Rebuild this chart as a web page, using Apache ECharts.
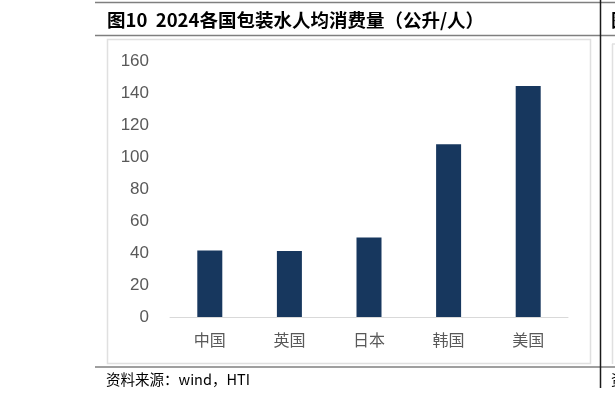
<!DOCTYPE html>
<html><head><meta charset="utf-8">
<script src="https://cdn.jsdelivr.net/npm/echarts@6/dist/echarts.min.js"></script>
<style>html,body{margin:0;padding:0;background:#fff;}#c{width:615px;height:398px;}</style>
</head><body><div id="c"></div>
<script>
const categories = ['中国', '英国', '日本', '韩国', '美国'];
const values = [41.6, 41.2, 49.7, 108, 144.3];
const yTicks = [0, 20, 40, 60, 80, 100, 120, 140, 160];
const titleText = '图10  2024各国包装水人均消费量（公升/人）';
const sourceText = '资料来源：wind，HTI';

const chart = echarts.init(document.getElementById('c'), null, {renderer: 'canvas'});
chart.setOption({
  animation: false,
  backgroundColor: '#fff',
  grid: {left: 170, right: 47, top: 61, bottom: 81},
  xAxis: {
    type: 'category', data: categories,
    axisLine: {lineStyle: {color: '#d9d9d9', width: 1}},
    axisTick: {show: false},
    axisLabel: {color: '#595959', fontSize: 16, margin: 15,
      fontFamily: 'Noto Sans CJK SC'}
  },
  yAxis: {
    type: 'value', min: yTicks[0], max: yTicks[yTicks.length - 1], interval: 20,
    axisLine: {show: false}, axisTick: {show: false}, splitLine: {show: false},
    axisLabel: {color: '#595959', fontSize: 17, margin: 21, fontFamily: 'Liberation Sans'}
  },
  series: [{
    type: 'bar', data: values, barWidth: 25,
    itemStyle: {color: '#17375e'}
  }],
  graphic: [
    {type: 'line', shape: {x1: 95, y1: 2.5, x2: 615, y2: 2.5}, style: {stroke: '#7f7f7f', lineWidth: 1.5}},
    {type: 'line', shape: {x1: 95, y1: 35.5, x2: 615, y2: 35.5}, style: {stroke: '#7f7f7f', lineWidth: 1.5}},
    {type: 'line', shape: {x1: 95, y1: 367, x2: 615, y2: 367}, style: {stroke: '#7f7f7f', lineWidth: 1.5}},
    {type: 'line', shape: {x1: 600.5, y1: 0, x2: 600.5, y2: 388}, style: {stroke: '#1a1a1a', lineWidth: 1.5}},
    {type: 'rect', shape: {x: 107.5, y: 39.5, width: 483, height: 324}, style: {fill: 'none', stroke: '#e0e0e0', lineWidth: 1.5}},
    {type: 'line', shape: {x1: 612.5, y1: 44, x2: 612.5, y2: 364}, style: {stroke: '#e0e0e0', lineWidth: 1.5}},
    {type: 'line', shape: {x1: 612, y1: 44, x2: 615, y2: 44}, style: {stroke: '#e0e0e0', lineWidth: 1.5}},
    {type: 'text', x: 107, y: 20, style: {text: titleText, fill: '#000', font: 'bold 18.5px "Noto Sans CJK SC"', verticalAlign: 'middle'}},
    {type: 'text', x: 611, y: 20, style: {text: '图11', fill: '#000', font: 'bold 18.5px "Noto Sans CJK SC"', verticalAlign: 'middle'}},
    {type: 'text', x: 106, y: 379, style: {text: sourceText, fill: '#000', font: '14.5px "Noto Sans CJK SC"', verticalAlign: 'middle'}},
    {type: 'text', x: 611, y: 379, style: {text: '资料', fill: '#000', font: '14.5px "Noto Sans CJK SC"', verticalAlign: 'middle'}}
  ]
});
</script></body></html>
